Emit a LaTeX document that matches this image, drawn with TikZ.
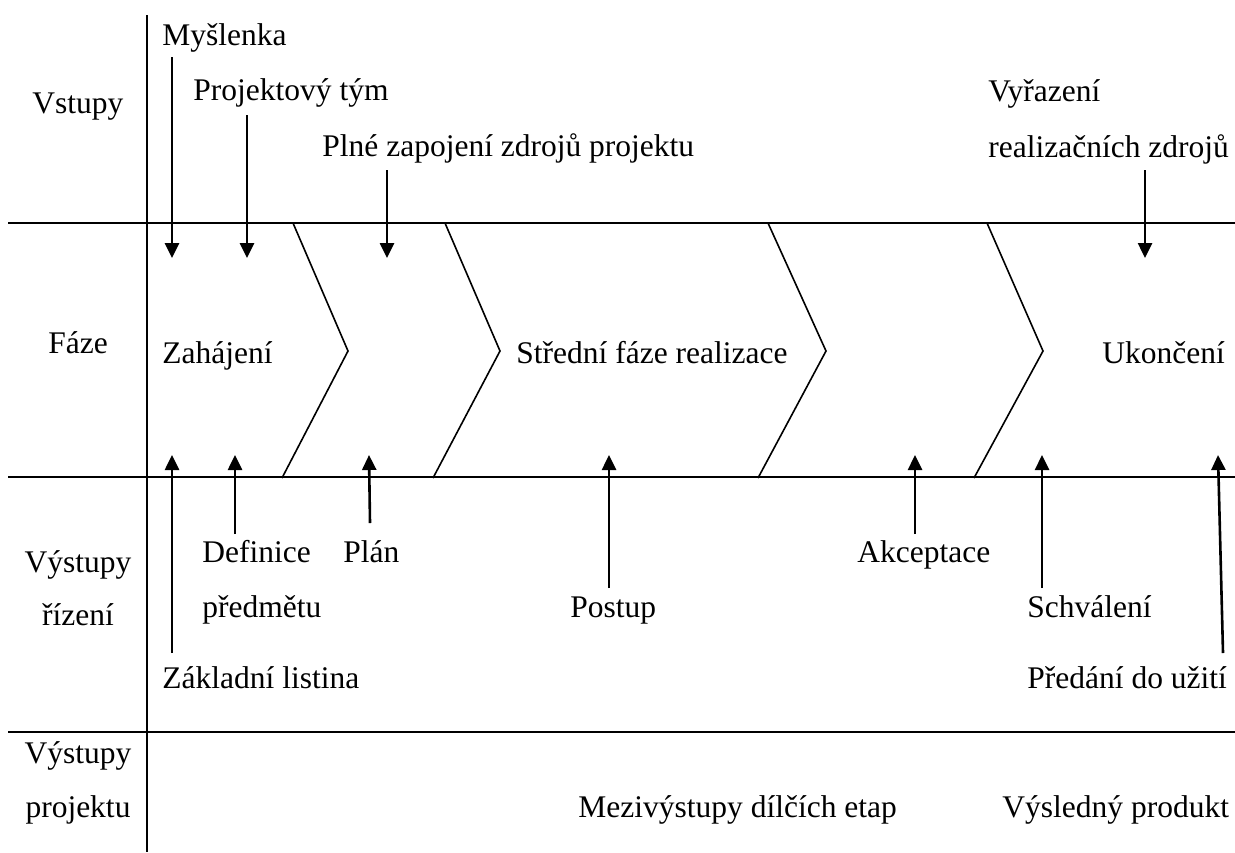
\documentclass[tikz,border=0pt]{standalone}
\usepackage{fontspec}
\setmainfont{Liberation Serif}
\usepackage{tikz}
\usetikzlibrary{arrows.meta,positioning}

\begin{document}
\begin{tikzpicture}[x=0.5pt, y=-0.5pt,
  every node/.style={font=\fontsize{15.75}{18}\selectfont, inner sep=0pt},
  lbl/.style={anchor=base west},
  rowhead/.style={anchor=base},
  grid/.style={line width=1pt},
  chev/.style={line width=0.8pt},
  arr/.style={line width=1.3pt, -{Triangle[length=7.5pt,width=7pt]}}]
\useasboundingbox (0,0) rectangle (1235,852);
% table frame
\draw[grid] (147,15) -- (147,852);
\foreach \y in {223,477,732} {
  \draw[grid] (8,\y) -- (1235,\y);
}
% row headings
\node[rowhead] (hin)   at (78,113) {Vstupy};
\node[rowhead] (hfaze) at (78,353) {Fáze};
\node[rowhead] (hriz1) at (78,572) {Výstupy};
\node[rowhead] (hriz2) at (78,625) {řízení};
\node[rowhead] (hprj1) at (78,763) {Výstupy};
\node[rowhead] (hprj2) at (78,817) {projektu};
% chevrons between the phases: top x / tip x / bottom x
\foreach \t/\p/\b in {293/348/282, 445/500/433, 768/826/758, 987/1043/974} {
  \draw[chev] (\t,223) -- (\p,351) -- (\b,478);
}
% phases
\node[lbl] (zahaj)  at (162,363) {Zahájení};
\node[lbl] (stred)  at (516,363) {Střední fáze realizace};
\node[lbl] (ukonc)  at (1102,363) {Ukončení};
% inputs
\node[lbl] (mysl)   at (162,45) {Myšlenka};
\node[lbl] (tym)    at (193,100) {Projektový tým};
\node[lbl] (plne)   at (322,156) {Plné zapojení zdrojů projektu};
\node[lbl] (vyraz)  at (988,101) {Vyřazení};
\node[lbl] (vyraz2) at (988,157) {realizačních zdrojů};
\coordinate (myslA)  at (172,57);   \coordinate (myslB)  at (172,258);
\coordinate (tymA)   at (247,115);  \coordinate (tymB)   at (247,258);
\coordinate (plneA)  at (387,170);  \coordinate (plneB)  at (387,258);
\coordinate (vyrazA) at (1145,170); \coordinate (vyrazB) at (1145,258);
\foreach \c in {mysl,tym,plne,vyraz} {
  \draw[arr] (\c A) -- (\c B);
}
% control outputs
\node[lbl] (zakl)   at (162,688) {Základní listina};
\node[lbl] (defin)  at (202,562) {Definice};
\node[lbl] (defin2) at (202,617) {předmětu};
\node[lbl] (plan)   at (343,562) {Plán};
\node[lbl] (postup) at (570,617) {Postup};
\node[lbl] (akcept) at (857,562) {Akceptace};
\node[lbl] (schval) at (1027,617) {Schválení};
\node[lbl] (predan) at (1027,688) {Předání do užití};
\coordinate (zaklA)   at (172,653);  \coordinate (zaklB)   at (172,455);
\coordinate (definA)  at (235,534);  \coordinate (definB)  at (235,455);
\coordinate (planA)   at (370,523);  \coordinate (planB)   at (369,455);
\coordinate (postupA) at (609,588);  \coordinate (postupB) at (609,455);
\coordinate (akceptA) at (915,534);  \coordinate (akceptB) at (915,455);
\coordinate (schvalA) at (1042,588); \coordinate (schvalB) at (1042,455);
\coordinate (predanA) at (1223,653); \coordinate (predanB) at (1218,455);
\foreach \c in {zakl,defin,plan,postup,akcept,schval,predan} {
  \draw[arr] (\c A) -- (\c B);
}
% project outputs
\node[lbl] (mezi)   at (578,817) {Mezivýstupy dílčích etap};
\node[lbl] (vysl)   at (1002,817) {Výsledný produkt};
\end{tikzpicture}
\end{document}
